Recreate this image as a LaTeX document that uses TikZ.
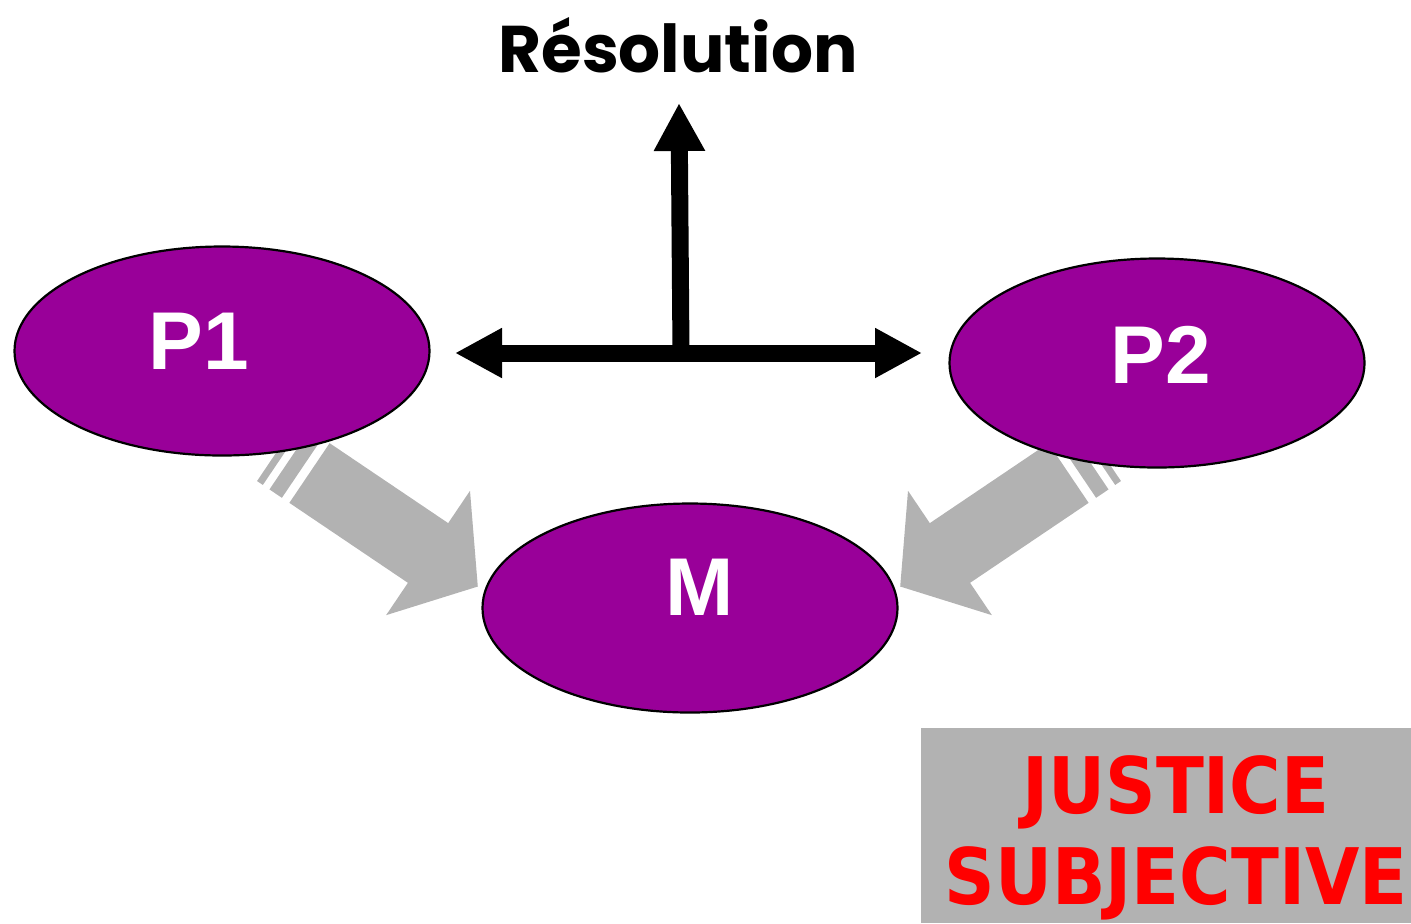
\documentclass[tikz,border=0pt]{standalone}
\usepackage{fontspec}
\setmainfont{Liberation Sans}
\newfontfamily\resfont{Poppins}
\newfontfamily\boxfont{DejaVu Sans Condensed Bold}
\usetikzlibrary{shapes.geometric,arrows.meta,positioning}
\definecolor{mauve}{HTML}{990099}
\definecolor{ashgray}{HTML}{B2B2B2}
\tikzstyle{party}=[ellipse,draw=black,line width=1.1pt,fill=mauve,minimum width=207.5pt,minimum height=104.5pt,inner sep=0pt]
\tikzstyle{partylabel}=[text=white,font=\fontsize{41}{41}\selectfont\bfseries,inner sep=0pt]
\tikzstyle{resline}=[line width=8.5pt,{Triangle[length=23.5pt,width=23.5pt]}-{Triangle[length=23.5pt,width=23.5pt]}]
\tikzstyle{jbox}=[fill=ashgray,minimum width=245pt,minimum height=97.5pt,inner sep=0pt]
\tikzstyle{jtext}=[text=red,align=center,inner sep=0pt,font=\boxfont\fontsize{39}{45.5}\selectfont]
\newcommand{\stripedarrow}[1]{
	\begin{scope}[#1]
	\fill[ashgray] (0,-36) -- (143,-36) -- (143,-75) -- (203,0) -- (143,75) -- (143,36) -- (0,36) -- cycle;
	\foreach \a/\b in {-24/-9,-39/-32}{
		\fill[ashgray] (\a,-36) rectangle (\b,36);
	}
	\end{scope}
}

\begin{document}
\begin{tikzpicture}[x=0.5pt,y=-0.5pt]
\useasboundingbox (0,0) rectangle (1411,923);
% gray arrows towards M
\stripedarrow{shift={(309.5,473)},rotate=-34}
\stripedarrow{shift={(1068.5,473)},xscale=-1,rotate=-34}

% parties
\node[party] (p1) at (222,351) {};
\node[party] (p2) at (1157,363) {};
\node[party] (m) at (690,608) {};
\node[partylabel] (p1t) at (199,341) {P1};
\node[partylabel] (p2t) at (1161,355) {P2};
\node[partylabel] (mt) at (700,587) {M};

% resolution
\node[anchor=base,font=\resfont\bfseries\fontsize{33}{33}\selectfont] (res) at (678,72) {Résolution};
\coordinate (resl) at (455,353);
\coordinate (resr) at (922,353);
\coordinate (hub) at (681,353);
\coordinate (resup) at (679,103);
\draw[resline] (resl) -- (resr);
\draw[resline,arrows={-Triangle[length=24pt,width=24pt]}] (hub) -- (resup);

% justice subjective
\node[jbox] (jbox) at (1166,825.5) {};
\node[jtext,anchor=north] (jtext) at (1176,755) {JUSTICE\\SUBJECTIVE};
\end{tikzpicture}
\end{document}
